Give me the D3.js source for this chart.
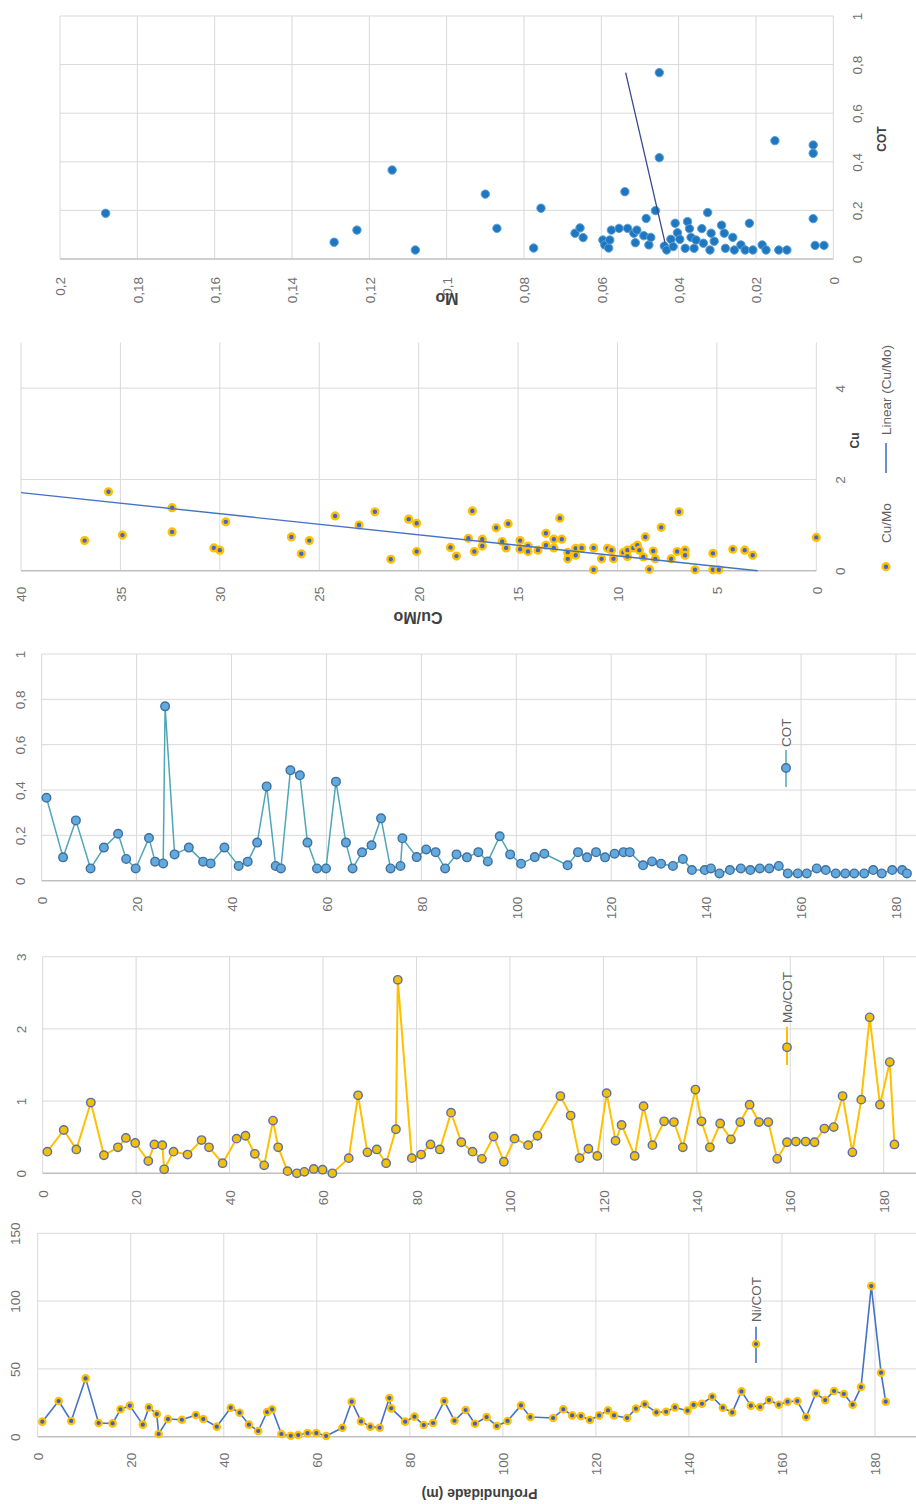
<!DOCTYPE html>
<html>
<head>
<meta charset="utf-8">
<script src="https://cdn.jsdelivr.net/npm/d3@7"></script>
<style>
  body { margin: 0; background: #fff; }
  svg { display: block; }
  .grid { stroke: #d9d9d9; stroke-width: 1; }
  .baseline { stroke: #bfbfbf; stroke-width: 1.5; }
  .tick-label { font-family: 'Liberation Sans', Arial, sans-serif; font-size: 13.5px; fill: #707070; }
  .title { font-family: 'Liberation Sans', Arial, sans-serif; font-weight: bold; fill: #404040; }
  .legend { font-family: 'Liberation Sans', Arial, sans-serif; font-size: 13.5px; fill: #606060; }
</style>
</head>
<body>
<svg width="916" height="1504"></svg>
<script>
// depth of each sample (m), shared by the three depth profiles
const depths = [
  1.0, 4.5, 7.2, 10.3, 13.1, 16.1, 17.8, 19.8, 22.6, 23.9,
  25.6, 26.0, 28.0, 31.0, 34.0, 35.6, 38.5, 41.5, 43.4, 45.4,
  47.4, 49.3, 50.4, 52.4, 54.4, 56.0, 58.0, 59.9, 62.0, 64.1,
  65.5, 67.5, 69.5, 71.5, 73.5, 75.6, 76.0, 79.0, 81.0, 83.0,
  85.0, 87.4, 89.6, 92.0, 94.0, 96.5, 98.7, 101.0, 103.9, 105.9,
  110.8, 113.0, 114.9, 116.8, 118.7, 120.7, 122.6, 123.9, 126.7, 128.6,
  130.5, 133.0, 135.1, 137.0, 139.7, 141.0, 142.8, 145.0, 147.3, 149.3,
  151.3, 153.3, 155.3, 157.2, 159.3, 161.2, 163.3, 165.2, 167.3, 169.3,
  171.2, 173.3, 175.2, 177.0, 179.2, 181.3, 182.3
];

const cotValues = [
  0.366, 0.103, 0.266, 0.054, 0.146, 0.207, 0.096, 0.054, 0.188, 0.084,
  0.076, 0.769, 0.116, 0.146, 0.084, 0.076, 0.146, 0.065, 0.084, 0.168,
  0.416, 0.065, 0.054, 0.487, 0.465, 0.168, 0.054, 0.054, 0.437, 0.168,
  0.054, 0.125, 0.156, 0.275, 0.054, 0.065, 0.187, 0.104, 0.138, 0.126,
  0.054, 0.116, 0.103, 0.126, 0.085, 0.196, 0.116, 0.075, 0.104, 0.119,
  0.068, 0.126, 0.103, 0.126, 0.103, 0.119, 0.126, 0.126, 0.068, 0.085,
  0.075, 0.065, 0.096, 0.047, 0.047, 0.054, 0.032, 0.047, 0.054, 0.047,
  0.054, 0.054, 0.065, 0.032, 0.032, 0.032, 0.054, 0.047, 0.032, 0.032,
  0.032, 0.032, 0.047, 0.032, 0.047, 0.047, 0.032
];

const moCotValues = [
  0.30, 0.60, 0.33, 0.98, 0.25, 0.36, 0.49, 0.42, 0.17, 0.40,
  0.39, 0.055, 0.30, 0.26, 0.46, 0.36, 0.14, 0.48, 0.52, 0.27,
  0.11, 0.73, 0.36, 0.03, 0.0, 0.02, 0.06, 0.05, 0.0, null,
  0.21, 1.08, 0.29, 0.33, 0.14, 0.61, 2.68, 0.21, 0.26, 0.40,
  0.33, 0.84, 0.43, 0.30, 0.20, 0.51, 0.16, 0.48, 0.39, 0.52,
  1.07, 0.80, 0.21, 0.34, 0.24, 1.11, 0.45, 0.67, 0.24, 0.93,
  0.39, 0.72, 0.71, 0.36, 1.16, 0.72, 0.36, 0.69, 0.47, 0.71,
  0.95, 0.71, 0.71, 0.20, 0.43, 0.44, 0.44, 0.43, 0.62, 0.64,
  1.07, 0.29, 1.02, 2.16, 0.95, 1.54, 0.40
];

const niCotValues = [
  11.1, 26.3, 11.6, 43.0, 10.1, 9.8, 20.2, 22.9, 8.9, 21.6,
  16.7, 2.0, 13.0, 12.5, 16.0, 13.0, 7.4, 21.4, 17.7, 8.9,
  4.2, 18.2, 20.2, 2.0, 0.7, 1.2, 2.7, 2.7, 0.5, null,
  6.6, 25.8, 11.3, 7.4, 6.6, 28.5, 20.9, 11.1, 14.8, 8.6,
  10.1, 26.3, 11.8, 19.7, 9.6, 14.5, 7.9, 11.6, 23.1, 14.5,
  13.8, 20.2, 15.7, 15.2, 12.3, 15.7, 19.4, 15.7, 13.8, 20.7,
  23.9, 17.9, 18.4, 21.6, 19.2, 23.4, 24.3, 29.5, 21.4, 17.9,
  33.4, 22.9, 21.9, 27.0, 23.6, 25.8, 26.3, 14.5, 32.0, 27.0,
  33.7, 31.5, 23.6, 36.6, 111.1, 47.2, 25.8
];

// [Mo, COT]
const moCotPoints = [
  [0.1882, 0.188], [0.1291, 0.069], [0.1232, 0.119], [0.1141, 0.366], [0.1081, 0.037],
  [0.0900, 0.267], [0.0870, 0.126], [0.0775, 0.045], [0.0756, 0.209], [0.0668, 0.106],
  [0.0655, 0.128], [0.0647, 0.088], [0.0596, 0.078], [0.0591, 0.058], [0.0581, 0.045],
  [0.0578, 0.078], [0.0574, 0.119], [0.0554, 0.126], [0.0539, 0.277], [0.0532, 0.126],
  [0.0516, 0.106], [0.0512, 0.067], [0.0508, 0.119], [0.0490, 0.096], [0.0484, 0.167],
  [0.0477, 0.058], [0.0472, 0.089], [0.0460, 0.199], [0.0450, 0.767], [0.0450, 0.417],
  [0.0437, 0.053], [0.0431, 0.037], [0.0420, 0.081], [0.0414, 0.051], [0.0409, 0.147],
  [0.0403, 0.108], [0.0397, 0.081], [0.0383, 0.044], [0.0377, 0.154], [0.0372, 0.125],
  [0.0368, 0.089], [0.0360, 0.044], [0.0355, 0.078], [0.0340, 0.125], [0.0336, 0.065],
  [0.0325, 0.191], [0.0319, 0.037], [0.0316, 0.106], [0.0308, 0.073], [0.0289, 0.139],
  [0.0282, 0.106], [0.0279, 0.044], [0.0260, 0.089], [0.0256, 0.037], [0.0239, 0.058],
  [0.0228, 0.037], [0.0217, 0.147], [0.0208, 0.037], [0.0184, 0.058], [0.0174, 0.037],
  [0.0151, 0.487], [0.0141, 0.037], [0.0120, 0.037], [0.0052, 0.469], [0.0052, 0.435],
  [0.0052, 0.166], [0.0047, 0.056], [0.0024, 0.056]
];
const moCotTrend = [[0.0537, 0.767], [0.0435, 0.065]];

// [Cu/Mo, Cu]
const cuMoPoints = [
  [36.8, 0.66], [35.6, 1.73], [34.9, 0.78], [32.4, 1.38], [32.4, 0.85],
  [30.3, 0.50], [30.0, 0.45], [29.7, 1.07], [26.4, 0.74], [25.9, 0.37],
  [25.5, 0.66], [24.2, 1.20], [23.0, 1.00], [22.2, 1.29], [21.4, 0.25],
  [20.5, 1.13], [20.1, 1.04], [20.1, 0.42], [18.4, 0.51], [18.1, 0.32],
  [17.3, 1.31], [17.5, 0.71], [17.2, 0.42], [16.8, 0.69], [16.8, 0.54],
  [16.1, 0.94], [15.5, 1.03], [15.8, 0.64], [15.6, 0.50], [14.9, 0.66],
  [14.9, 0.47], [14.5, 0.54], [14.5, 0.42], [14.0, 0.45], [13.6, 0.82],
  [13.6, 0.56], [13.2, 0.69], [13.2, 0.50], [12.8, 0.69], [12.9, 1.15],
  [12.5, 0.40], [12.5, 0.26], [12.1, 0.49], [12.1, 0.34], [11.8, 0.50],
  [11.2, 0.50], [11.2, 0.02], [10.8, 0.26], [10.5, 0.49], [10.3, 0.45],
  [10.2, 0.26], [9.7, 0.40], [9.5, 0.45], [9.5, 0.31], [9.2, 0.50],
  [9.0, 0.56], [8.9, 0.45], [8.6, 0.74], [8.7, 0.30], [8.4, 0.03],
  [8.2, 0.43], [8.1, 0.26], [7.8, 0.95], [7.3, 0.26], [6.9, 1.29],
  [7.0, 0.42], [6.6, 0.45], [6.6, 0.34], [6.1, 0.02], [5.2, 0.02],
  [4.9, 0.02], [5.2, 0.38], [4.2, 0.47], [3.6, 0.45], [3.2, 0.34],
  [0.0, 0.73]
];
const cuMoTrend = [[40, 1.71], [2.95, 0]];

const moTicks = [0, 0.02, 0.04, 0.06, 0.08, 0.1, 0.12, 0.14, 0.16, 0.18, 0.2];
const cotTicks = [0, 0.2, 0.4, 0.6, 0.8, 1];
const cuMoTicks = [0, 5, 10, 15, 20, 25, 30, 35, 40];
const cuTicks = [0, 2, 4];
const depthTicks = [0, 20, 40, 60, 80, 100, 120, 140, 160, 180];
const moCotTicks = [0, 1, 2, 3];
const niCotTicks = [0, 50, 100, 150];

const svg = d3.select('svg');
const fmt = d => String(d).replace('.', ',');

function frame({ x, y, xTicks, yTicks, left, right, top, labelPad, ySide, yOff }) {
  const g = svg.append('g');
  const bottom = y(0);

  g.append('g').selectAll('line')
    .data(xTicks)
    .join('line')
      .attr('class', 'grid')
      .attr('x1', d => x(d)).attr('x2', d => x(d))
      .attr('y1', top).attr('y2', bottom);

  g.append('g').selectAll('line')
    .data(yTicks.filter(d => d !== 0))
    .join('line')
      .attr('class', 'grid')
      .attr('x1', left).attr('x2', right)
      .attr('y1', d => y(d)).attr('y2', d => y(d));

  g.append('line')
    .attr('class', 'baseline')
    .attr('x1', left).attr('x2', right)
    .attr('y1', bottom).attr('y2', bottom);

  const xa = g.append('g')
    .attr('transform', `translate(0,${bottom})`)
    .call(d3.axisBottom(x).tickValues(xTicks).tickFormat(fmt).tickSize(0));
  xa.select('.domain').remove();
  xa.selectAll('text')
    .attr('class', 'tick-label')
    .attr('transform', 'rotate(-90)')
    .attr('x', -labelPad)
    .attr('y', 0)
    .attr('dy', '0.35em')
    .attr('text-anchor', 'end');

  const axisFn = ySide === 'right' ? d3.axisRight : d3.axisLeft;
  const ya = g.append('g')
    .attr('transform', `translate(${(ySide === 'right' ? right : left) + yOff},0)`)
    .call(axisFn(y).tickValues(yTicks).tickFormat(fmt).tickSize(0));
  ya.select('.domain').remove();
  ya.selectAll('text')
    .attr('class', 'tick-label')
    .attr('transform', 'rotate(-90)')
    .attr('x', 0)
    .attr('y', 0)
    .attr('dy', '0.35em')
    .attr('text-anchor', 'middle');

  return g;
}

function title(text, x, y, angle, size) {
  svg.append('text')
    .attr('class', 'title')
    .attr('transform', `translate(${x},${y}) rotate(${angle})`)
    .attr('text-anchor', 'middle')
    .attr('dy', '0.35em')
    .style('font-size', `${size}px`)
    .text(text);
}

function legendEntry(x, lineY, markerY, textY, label, s) {
  const g = svg.append('g');
  if (lineY) {
    g.append('line')
      .attr('x1', x).attr('x2', x)
      .attr('y1', lineY[0]).attr('y2', lineY[1])
      .attr('stroke', s.line).attr('stroke-width', s.lineWidth);
  }
  if (markerY) {
    g.append('circle')
      .attr('cx', x).attr('cy', markerY).attr('r', s.r)
      .attr('fill', s.fill).attr('stroke', s.stroke).attr('stroke-width', s.strokeWidth);
  }
  g.append('text')
    .attr('class', 'legend')
    .attr('transform', `translate(${x},${textY}) rotate(-90)`)
    .attr('dy', '0.35em')
    .text(label);
}

function profile(x, y, values, s) {
  const pts = depths.map((d, i) => [d, values[i]]).filter(p => p[1] !== null);
  const line = d3.line().x(p => x(p[0])).y(p => y(p[1]));
  svg.append('path')
    .datum(pts)
    .attr('fill', 'none')
    .attr('stroke', s.line)
    .attr('stroke-width', s.lineWidth)
    .attr('stroke-linejoin', 'round')
    .attr('d', line);
  svg.append('g').selectAll('circle')
    .data(pts)
    .join('circle')
      .attr('cx', p => x(p[0]))
      .attr('cy', p => y(p[1]))
      .attr('r', s.r)
      .attr('fill', s.fill)
      .attr('stroke', s.stroke)
      .attr('stroke-width', s.strokeWidth);
}

function scatter(x, y, points, trend, s) {
  svg.append('g').selectAll('circle')
    .data(points)
    .join('circle')
      .attr('cx', p => x(p[0]))
      .attr('cy', p => y(p[1]))
      .attr('r', s.r)
      .attr('fill', s.fill)
      .attr('stroke', s.stroke)
      .attr('stroke-width', s.strokeWidth);
  svg.append('path')
    .datum(trend)
    .attr('fill', 'none')
    .attr('stroke', s.trend)
    .attr('stroke-width', s.trendWidth)
    .attr('d', d3.line().x(p => x(p[0])).y(p => y(p[1])));
}

// Mo vs COT
const x1 = d3.scaleLinear().domain([0.2, 0]).range([60, 833.3]);
const y1 = d3.scaleLinear().domain([0, 1]).range([259, 16]);
frame({ x: x1, y: y1, xTicks: moTicks, yTicks: cotTicks, left: 60, right: 833.3, top: 16,
  labelPad: 18, ySide: 'right', yOff: 24 });
scatter(x1, y1, moCotPoints, moCotTrend,
  { r: 4.2, fill: '#1f78bf', stroke: '#5aa0d8', strokeWidth: 1, trend: '#3a4a8c', trendWidth: 1.3 });
title('COT', 881.5, 139, -90, 12);
title('Mo', 447, 299, 180, 16);

// Cu/Mo vs Cu
const x2 = d3.scaleLinear().domain([40, 0]).range([21, 816.3]);
const y2 = d3.scaleLinear().domain([0, 5]).range([570.7, 342.5]);
frame({ x: x2, y: y2, xTicks: cuMoTicks, yTicks: cuTicks, left: 21, right: 816.3, top: 342.5,
  labelPad: 16, ySide: 'right', yOff: 23.5 });
const cuStyle = { r: 3.4, fill: '#4466c8', stroke: '#ffc000', strokeWidth: 2.4,
  trend: '#4472c4', trendWidth: 1.4, line: '#4472c4', lineWidth: 1.6 };
scatter(x2, y2, cuMoPoints, cuMoTrend, cuStyle);
title('Cu', 855, 440.5, -90, 12);
title('Cu/Mo', 418, 618, 180, 16);
legendEntry(886, null, 566.7, 543, 'Cu/Mo', cuStyle);
legendEntry(886, [473, 443], null, 435, 'Linear (Cu/Mo)', cuStyle);

// COT profile
const x3 = d3.scaleLinear().domain([0, 180]).range([41.7, 896]);
const y3 = d3.scaleLinear().domain([0, 1]).range([880.7, 654]);
frame({ x: x3, y: y3, xTicks: depthTicks, yTicks: cotTicks, left: 41.7, right: 916, top: 654,
  labelPad: 16, ySide: 'left', yOff: -21.7 });
const cotStyle = { r: 4.3, fill: '#62a9dd', stroke: '#3f6f9f', strokeWidth: 1.4,
  line: '#4ea6b8', lineWidth: 1.5 };
profile(x3, y3, cotValues, cotStyle);
legendEntry(786, [750, 787], 768, 747, 'COT', cotStyle);

// Mo/COT profile
const x4 = d3.scaleLinear().domain([0, 180]).range([42.7, 883.7]);
const y4 = d3.scaleLinear().domain([0, 3]).range([1173.3, 956.7]);
frame({ x: x4, y: y4, xTicks: depthTicks, yTicks: moCotTicks, left: 42.7, right: 916, top: 956.7,
  labelPad: 17, ySide: 'left', yOff: -21 });
const moStyle = { r: 4.2, fill: '#f2bf0a', stroke: '#5b6fa8', strokeWidth: 1.4,
  line: '#ffc000', lineWidth: 2 };
profile(x4, y4, moCotValues, moStyle);
legendEntry(787, [1026.7, 1065], 1047.3, 1023, 'Mo/COT', moStyle);

// Ni/COT profile
const x5 = d3.scaleLinear().domain([0, 180]).range([37.7, 875]);
const y5 = d3.scaleLinear().domain([0, 150]).range([1436.7, 1233.3]);
frame({ x: x5, y: y5, xTicks: depthTicks, yTicks: niCotTicks, left: 37.7, right: 916, top: 1233.3,
  labelPad: 16, ySide: 'left', yOff: -22.7 });
const niStyle = { r: 3.2, fill: '#4060c0', stroke: '#ffc000', strokeWidth: 2.2,
  line: '#4472c4', lineWidth: 1.6 };
profile(x5, y5, niCotValues, niStyle);
legendEntry(756, [1326.7, 1363], 1344, 1322, 'Ni/COT', niStyle);
title('Profundidade (m)', 479.5, 1494, 180, 14);
</script>
</body>
</html>
